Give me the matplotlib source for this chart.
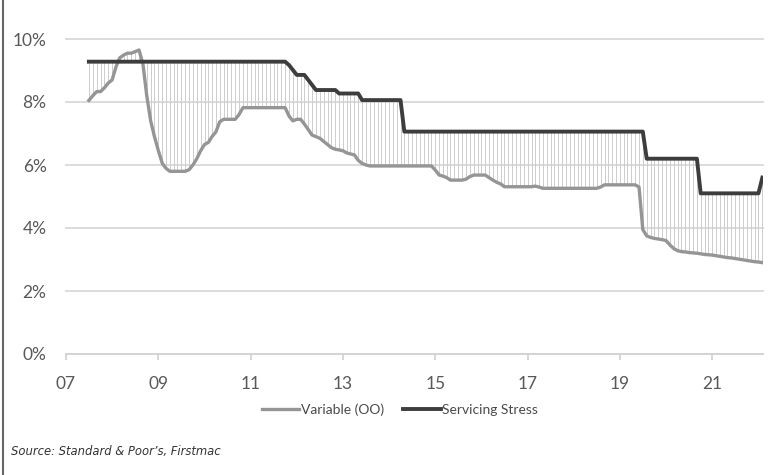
import matplotlib
matplotlib.use("Agg")
import matplotlib.pyplot as plt
import matplotlib.dates as mdates
from matplotlib.lines import Line2D
from matplotlib import font_manager
import numpy as np
import pandas as pd

# Monthly rates (%), July 2007 to February 2022
variable_oo = (
    # 2007 (Jul-Dec)
    [8.05, 8.20, 8.33, 8.33, 8.45, 8.60]
    # 2008
    + [8.70, 9.12, 9.40, 9.49, 9.55, 9.55, 9.60, 9.65, 9.20, 8.20, 7.40, 6.90]
    # 2009
    + [6.45, 6.05, 5.90, 5.80, 5.80, 5.80, 5.80, 5.80, 5.85, 6.00, 6.20, 6.45]
    # 2010
    + [6.65, 6.72, 6.90, 7.05, 7.37, 7.45, 7.45, 7.45, 7.45, 7.60, 7.82, 7.82]
    # 2011
    + [7.82, 7.82, 7.82, 7.82, 7.82, 7.82, 7.82, 7.82, 7.82, 7.82, 7.55, 7.40]
    # 2012
    + [7.45, 7.45, 7.30, 7.12, 6.95, 6.90, 6.85, 6.75, 6.65, 6.55, 6.50, 6.48]
    # 2013
    + [6.45, 6.38, 6.35, 6.32, 6.15, 6.05, 6.00, 5.97, 5.97, 5.97, 5.97, 5.97]
    # 2014
    + [5.97, 5.97, 5.97, 5.97, 5.97, 5.97, 5.97, 5.97, 5.97, 5.97, 5.97, 5.97]
    # 2015
    + [5.84, 5.68, 5.65, 5.60, 5.52, 5.52, 5.52, 5.52, 5.55, 5.63, 5.68, 5.68]
    # 2016
    + [5.68, 5.68, 5.60, 5.52, 5.45, 5.40, 5.31, 5.31, 5.31, 5.31, 5.31, 5.31]
    # 2017
    + [5.31, 5.31, 5.33, 5.30, 5.26, 5.26, 5.26, 5.26, 5.26, 5.26, 5.26, 5.26]
    # 2018
    + [5.26, 5.26, 5.26, 5.26, 5.26, 5.26, 5.26, 5.30, 5.37, 5.37, 5.37, 5.37]
    # 2019
    + [5.37, 5.37, 5.37, 5.37, 5.37, 5.30, 3.95, 3.75, 3.70, 3.67, 3.65, 3.63]
    # 2020
    + [3.60, 3.46, 3.35, 3.28, 3.25, 3.24, 3.22, 3.21, 3.20, 3.18, 3.16, 3.15]
    # 2021
    + [3.14, 3.12, 3.10, 3.08, 3.06, 3.05, 3.03, 3.01, 2.99, 2.97, 2.95, 2.93]
    # 2022 (Jan-Feb)
    + [2.92, 2.90]
)

servicing_stress = (
    # 2007 (Jul-Dec)
    [9.28, 9.28, 9.28, 9.28, 9.28, 9.28]
    # 2008
    + [9.28, 9.28, 9.28, 9.28, 9.28, 9.28, 9.28, 9.28, 9.28, 9.28, 9.28, 9.28]
    # 2009
    + [9.28, 9.28, 9.28, 9.28, 9.28, 9.28, 9.28, 9.28, 9.28, 9.28, 9.28, 9.28]
    # 2010
    + [9.28, 9.28, 9.28, 9.28, 9.28, 9.28, 9.28, 9.28, 9.28, 9.28, 9.28, 9.28]
    # 2011
    + [9.28, 9.28, 9.28, 9.28, 9.28, 9.28, 9.28, 9.28, 9.28, 9.28, 9.17, 9.02]
    # 2012
    + [8.86, 8.86, 8.86, 8.70, 8.54, 8.38, 8.38, 8.38, 8.38, 8.38, 8.38, 8.27]
    # 2013
    + [8.27, 8.27, 8.27, 8.27, 8.27, 8.06, 8.06, 8.06, 8.06, 8.06, 8.06, 8.06]
    # 2014
    + [8.06, 8.06, 8.06, 8.06, 7.06, 7.06, 7.06, 7.06, 7.06, 7.06, 7.06, 7.06]
    # 2015
    + [7.06, 7.06, 7.06, 7.06, 7.06, 7.06, 7.06, 7.06, 7.06, 7.06, 7.06, 7.06]
    # 2016
    + [7.06, 7.06, 7.06, 7.06, 7.06, 7.06, 7.06, 7.06, 7.06, 7.06, 7.06, 7.06]
    # 2017
    + [7.06, 7.06, 7.06, 7.06, 7.06, 7.06, 7.06, 7.06, 7.06, 7.06, 7.06, 7.06]
    # 2018
    + [7.06, 7.06, 7.06, 7.06, 7.06, 7.06, 7.06, 7.06, 7.06, 7.06, 7.06, 7.06]
    # 2019
    + [7.06, 7.06, 7.06, 7.06, 7.06, 7.06, 7.06, 6.20, 6.20, 6.20, 6.20, 6.20]
    # 2020
    + [6.20, 6.20, 6.20, 6.20, 6.20, 6.20, 6.20, 6.20, 6.20, 5.10, 5.10, 5.10]
    # 2021
    + [5.10, 5.10, 5.10, 5.10, 5.10, 5.10, 5.10, 5.10, 5.10, 5.10, 5.10, 5.10]
    # 2022 (Jan-Feb)
    + [5.10, 5.60]
)

series_names = ["Variable (OO)", "Servicing Stress"]
y_ticks = [0, 2, 4, 6, 8, 10]
x_tick_years = [2007, 2009, 2011, 2013, 2015, 2017, 2019, 2021]
source_note = "Source: Standard & Poor\u2019s, Firstmac"

dates = pd.date_range("2007-07-01", periods=len(variable_oo), freq="MS")
var = np.array(variable_oo)
stress = np.array(servicing_stress)

TEXT = "#595959"
GRID = "#d9d9d9"
VAR_C = "#959595"
STRESS_C = "#3d3d3d"
LABEL_FONT = ["Lato", "DejaVu Sans"]

# a narrow face for the footnote if one is installed
installed = {f.name for f in font_manager.fontManager.ttflist}
if "Liberation Sans Narrow" in installed:
    note_family, note_size = ["Liberation Sans Narrow", "DejaVu Sans"], 10.5
else:
    note_family, note_size = ["DejaVu Sans"], 9.3

W, H = 779, 475
fig = plt.figure(figsize=(W / 100, H / 100), dpi=100)
fig.patch.set_facecolor("white")

ax = fig.add_axes([66 / W, 1 - 354 / H, (763 - 66) / W, (354 - 39) / H])
ax.set_xlim(pd.Timestamp("2007-01-01"), pd.Timestamp("2022-02-06"))
ax.set_ylim(0, 10)

# gridlines
for y in y_ticks[1:]:
    ax.axhline(y, color=GRID, lw=1.3, zorder=0, clip_on=False)

# gap between the two rates, one thin stroke per month
ax.vlines(dates, np.minimum(var, stress), np.maximum(var, stress),
          color="#cdcdcd", lw=0.7, zorder=1)

ax.plot(dates, var, color=VAR_C, lw=2.4, zorder=3, solid_joinstyle="round")
ax.plot(dates, stress, color=STRESS_C, lw=2.8, zorder=4, solid_joinstyle="round")

for side in ["top", "right", "left"]:
    ax.spines[side].set_visible(False)
ax.spines["bottom"].set_color("#d0d0d0")
ax.spines["bottom"].set_linewidth(1.3)

ax.set_yticks(y_ticks)
ax.set_yticklabels([f"{v}%" for v in y_ticks])
ax.tick_params(axis="y", length=0, pad=14, labelsize=12.5, labelcolor=TEXT)

tick_dates = [pd.Timestamp(f"{yr}-01-01") for yr in x_tick_years]
ax.set_xticks(tick_dates)
ax.xaxis.set_major_formatter(mdates.DateFormatter("%y"))
ax.tick_params(axis="x", length=4.5, width=1.2, color="#d0d0d0", pad=11,
               labelsize=12.5, labelcolor=TEXT)
for lbl in ax.get_xticklabels() + ax.get_yticklabels():
    lbl.set_family(LABEL_FONT)

handles = [
    Line2D([], [], color=VAR_C, lw=2.4),
    Line2D([], [], color=STRESS_C, lw=2.8),
]
leg = fig.legend(handles, series_names, loc="center", ncol=2, frameon=False,
                 bbox_to_anchor=(400 / W, 1 - 410 / H),
                 handlelength=2.7, handletextpad=0.1, columnspacing=1.4,
                 prop={"family": LABEL_FONT, "size": 10})
for t in leg.get_texts():
    t.set_color("#4a4a4a")

fig.text(11 / W, 1 - 451 / H, source_note, ha="left", va="center",
         fontsize=note_size, style="italic", color="#333333",
         family=note_family, fontstretch="condensed")

# left frame rule
fig.add_artist(Line2D([3 / W, 3 / W], [0, 1], color="#666666", lw=1.5))

fig.savefig("out.png", dpi=100, facecolor="white")
